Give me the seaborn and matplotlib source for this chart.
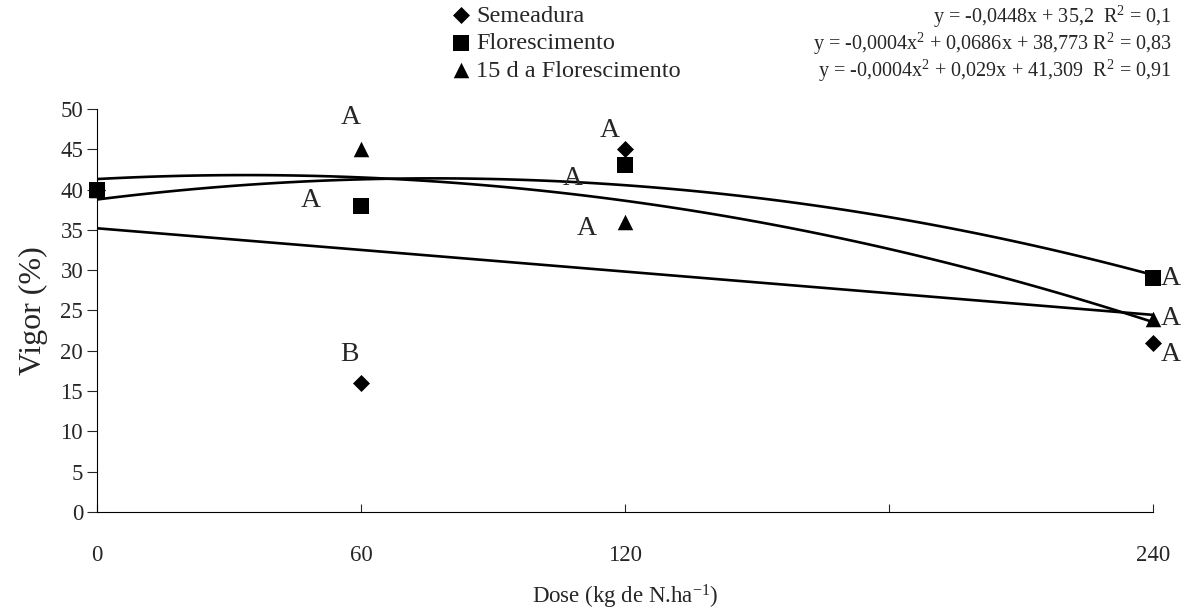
import pandas as pd
import numpy as np
import matplotlib
matplotlib.use("Agg")
import matplotlib.pyplot as plt
import seaborn as sns

# Data
dose = [0, 60, 120, 240]
semeadura = [40, 16, 45, 21]
florescimento = [40, 38, 43, 29]
quinze_d = [40, 45, 36, 24]

series_names = ["Semeadura", "Florescimento", "15 d a Florescimento"]
series_markers = {"Semeadura": "D", "Florescimento": "s", "15 d a Florescimento": "^"}
fit_order = {"Semeadura": 1, "Florescimento": 2, "15 d a Florescimento": 2}

equations = [
    r"y = -0,0448x + 35,2  R$^2$ = 0,1",
    r"y = -0,0004x$^2$ + 0,0686x + 38,773 R$^2$ = 0,83",
    r"y = -0,0004x$^2$ + 0,029x + 41,309  R$^2$ = 0,91",
]

# letters of the mean comparison test: (x, y, text)
letters = [
    (57.7, 48.9, "A"), (48.6, 38.7, "A"), (57.3, 19.5, "B"),
    (116.6, 47.3, "A"), (108.2, 41.4, "A"), (111.4, 35.2, "A"),
    (244.0, 29.0, "A"), (244.0, 24.0, "A"), (244.0, 19.5, "A"),
]

x_ticks = [0, 60, 120, 180, 240]
x_tick_labels = ["0", "60", "120", "", "240"]

df = pd.DataFrame({
    "dose": dose * 3,
    "vigor": semeadura + florescimento + quinze_d,
    "fase": [n for n in series_names for _ in dose],
})

sns.set_style("white")
plt.rcParams["font.family"] = ["Liberation Serif", "DejaVu Serif"]
plt.rcParams["mathtext.fontset"] = "custom"
plt.rcParams["mathtext.rm"] = "Liberation Serif"
plt.rcParams["mathtext.default"] = "regular"

fig = plt.figure(figsize=(11.85, 6.09), dpi=100)
ax = fig.add_axes([0.0819, 0.1593, 0.8911, 0.6617])

# fitted trend lines
for name in series_names:
    sub = df[df["fase"] == name]
    sns.regplot(data=sub, x="dose", y="vigor", order=fit_order[name], ci=None,
                scatter=False, color="black", line_kws={"lw": 1.9}, ax=ax)

# points (square last so it sits on top at dose 0)
sizes = {"Semeadura": 75, "Florescimento": 125, "15 d a Florescimento": 125}
for name in ["Semeadura", "15 d a Florescimento", "Florescimento"]:
    sub = df[df["fase"] == name]
    sns.scatterplot(data=sub, x="dose", y="vigor", marker=series_markers[name],
                    s=sizes[name], color="black", edgecolor="black",
                    linewidth=0, ax=ax, label=name, zorder=5, clip_on=False)

for lx, ly, t in letters:
    ax.text(lx, ly, t, fontsize=20, ha="center", va="center")

ax.set_xlim(0, 240)
ax.set_ylim(0, 50)
ax.set_yticks(range(0, 51, 5))
ax.set_xticks(x_ticks)
ax.set_xticklabels(x_tick_labels)
ax.tick_params(axis="y", direction="out", length=7, width=0.8, labelsize=16.5, pad=3, left=True)
ax.tick_params(axis="x", direction="in", length=6, width=0.8, labelsize=16.5, pad=24, bottom=True)
for sp in ["top", "right"]:
    ax.spines[sp].set_visible(False)
for sp in ["left", "bottom"]:
    ax.spines[sp].set_color("black")
    ax.spines[sp].set_linewidth(0.8)

ax.set_ylabel("Vigor (%)", fontsize=23, labelpad=9)
ax.set_xlabel(r"Dose (kg de N.ha$^{-1}$)", fontsize=16.5, labelpad=12)

# legend above the plot
handles, labels = ax.get_legend_handles_labels()
order = [labels.index(n) for n in series_names]
ax.legend([handles[i] for i in order], [labels[i] for i in order],
          loc="upper left", bbox_to_anchor=(0.373, 1.008), bbox_transform=fig.transFigure,
          frameon=False, fontsize=17.5, handlelength=0.8, handletextpad=0.2,
          labelspacing=0.22, markerscale=1.0, borderaxespad=0)

for i, eq in enumerate(equations):
    fig.text(0.989, 0.972 - i * 0.0443, eq, fontsize=14.5, ha="right", va="center")

fig.savefig("out.png", dpi=100)
